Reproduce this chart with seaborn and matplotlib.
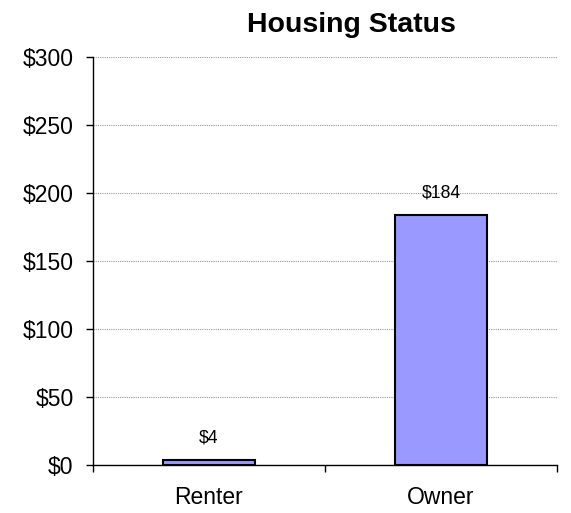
import matplotlib
matplotlib.use("Agg")
import matplotlib.pyplot as plt
import seaborn as sns
import pandas as pd
from matplotlib.ticker import FuncFormatter

categories = ["Renter", "Owner"]
values = [4, 184]
labels = ["$4", "$184"]
title = "Housing Status"

sns.set_style("white")
plt.rcParams['font.family'] = ['Liberation Sans', 'DejaVu Sans']
plt.rcParams['text.color'] = 'black'
plt.rcParams['xtick.color'] = 'black'
plt.rcParams['ytick.color'] = 'black'

df = pd.DataFrame({"cat": categories, "val": values})
fig = plt.figure(figsize=(5.71, 5.13), dpi=100)
ax = fig.add_axes([93/571, 1-465/513, (557-93)/571, (465-57)/513])
sns.barplot(data=df, x="cat", y="val", color="#9999FF", saturation=1,
            edgecolor="black", linewidth=1.5, width=0.4, ax=ax)

ax.set_ylim(0, 300)
ax.set_xlim(-0.5, 1.5)
ax.set_yticks(range(0, 301, 50))
ax.yaxis.set_major_formatter(FuncFormatter(lambda v, p: f"${int(v)}"))
ax.yaxis.grid(True, linestyle=(0, (1, 1)), color="#999999", linewidth=0.8)
ax.set_axisbelow(True)

ax.set_xticks([-0.5, 0.5, 1.5])
ax.set_xticklabels(["", "", ""])
ax.set_xticks([0, 1], minor=True)
ax.set_xticklabels(categories, minor=True)
ax.tick_params(axis="x", which="major", bottom=True, length=5, width=1,
               color="black", direction="out")
ax.tick_params(axis="x", which="minor", bottom=True, length=0, labelsize=16.5,
               pad=15, labelcolor="black")
ax.tick_params(axis="y", left=True, length=5, width=1, color="black",
               direction="out", labelsize=16.5, pad=9, labelcolor="black")
ax.set_xlabel("")
ax.set_ylabel("")

for s in ["top", "right"]:
    ax.spines[s].set_visible(False)
for s in ["left", "bottom"]:
    ax.spines[s].set_color("black")
    ax.spines[s].set_linewidth(1)

for i, (v, lab) in enumerate(zip(values, labels)):
    ax.annotate(lab, xy=(i, v), xytext=(0, 15.5), textcoords="offset points",
                ha="center", va="center", fontsize=12.7, color="black")

fig.text(351/571, 1-25/513, title, ha="center", va="center",
         fontsize=20.5, fontweight="bold", color="black")

fig.savefig("out.png", dpi=100)
